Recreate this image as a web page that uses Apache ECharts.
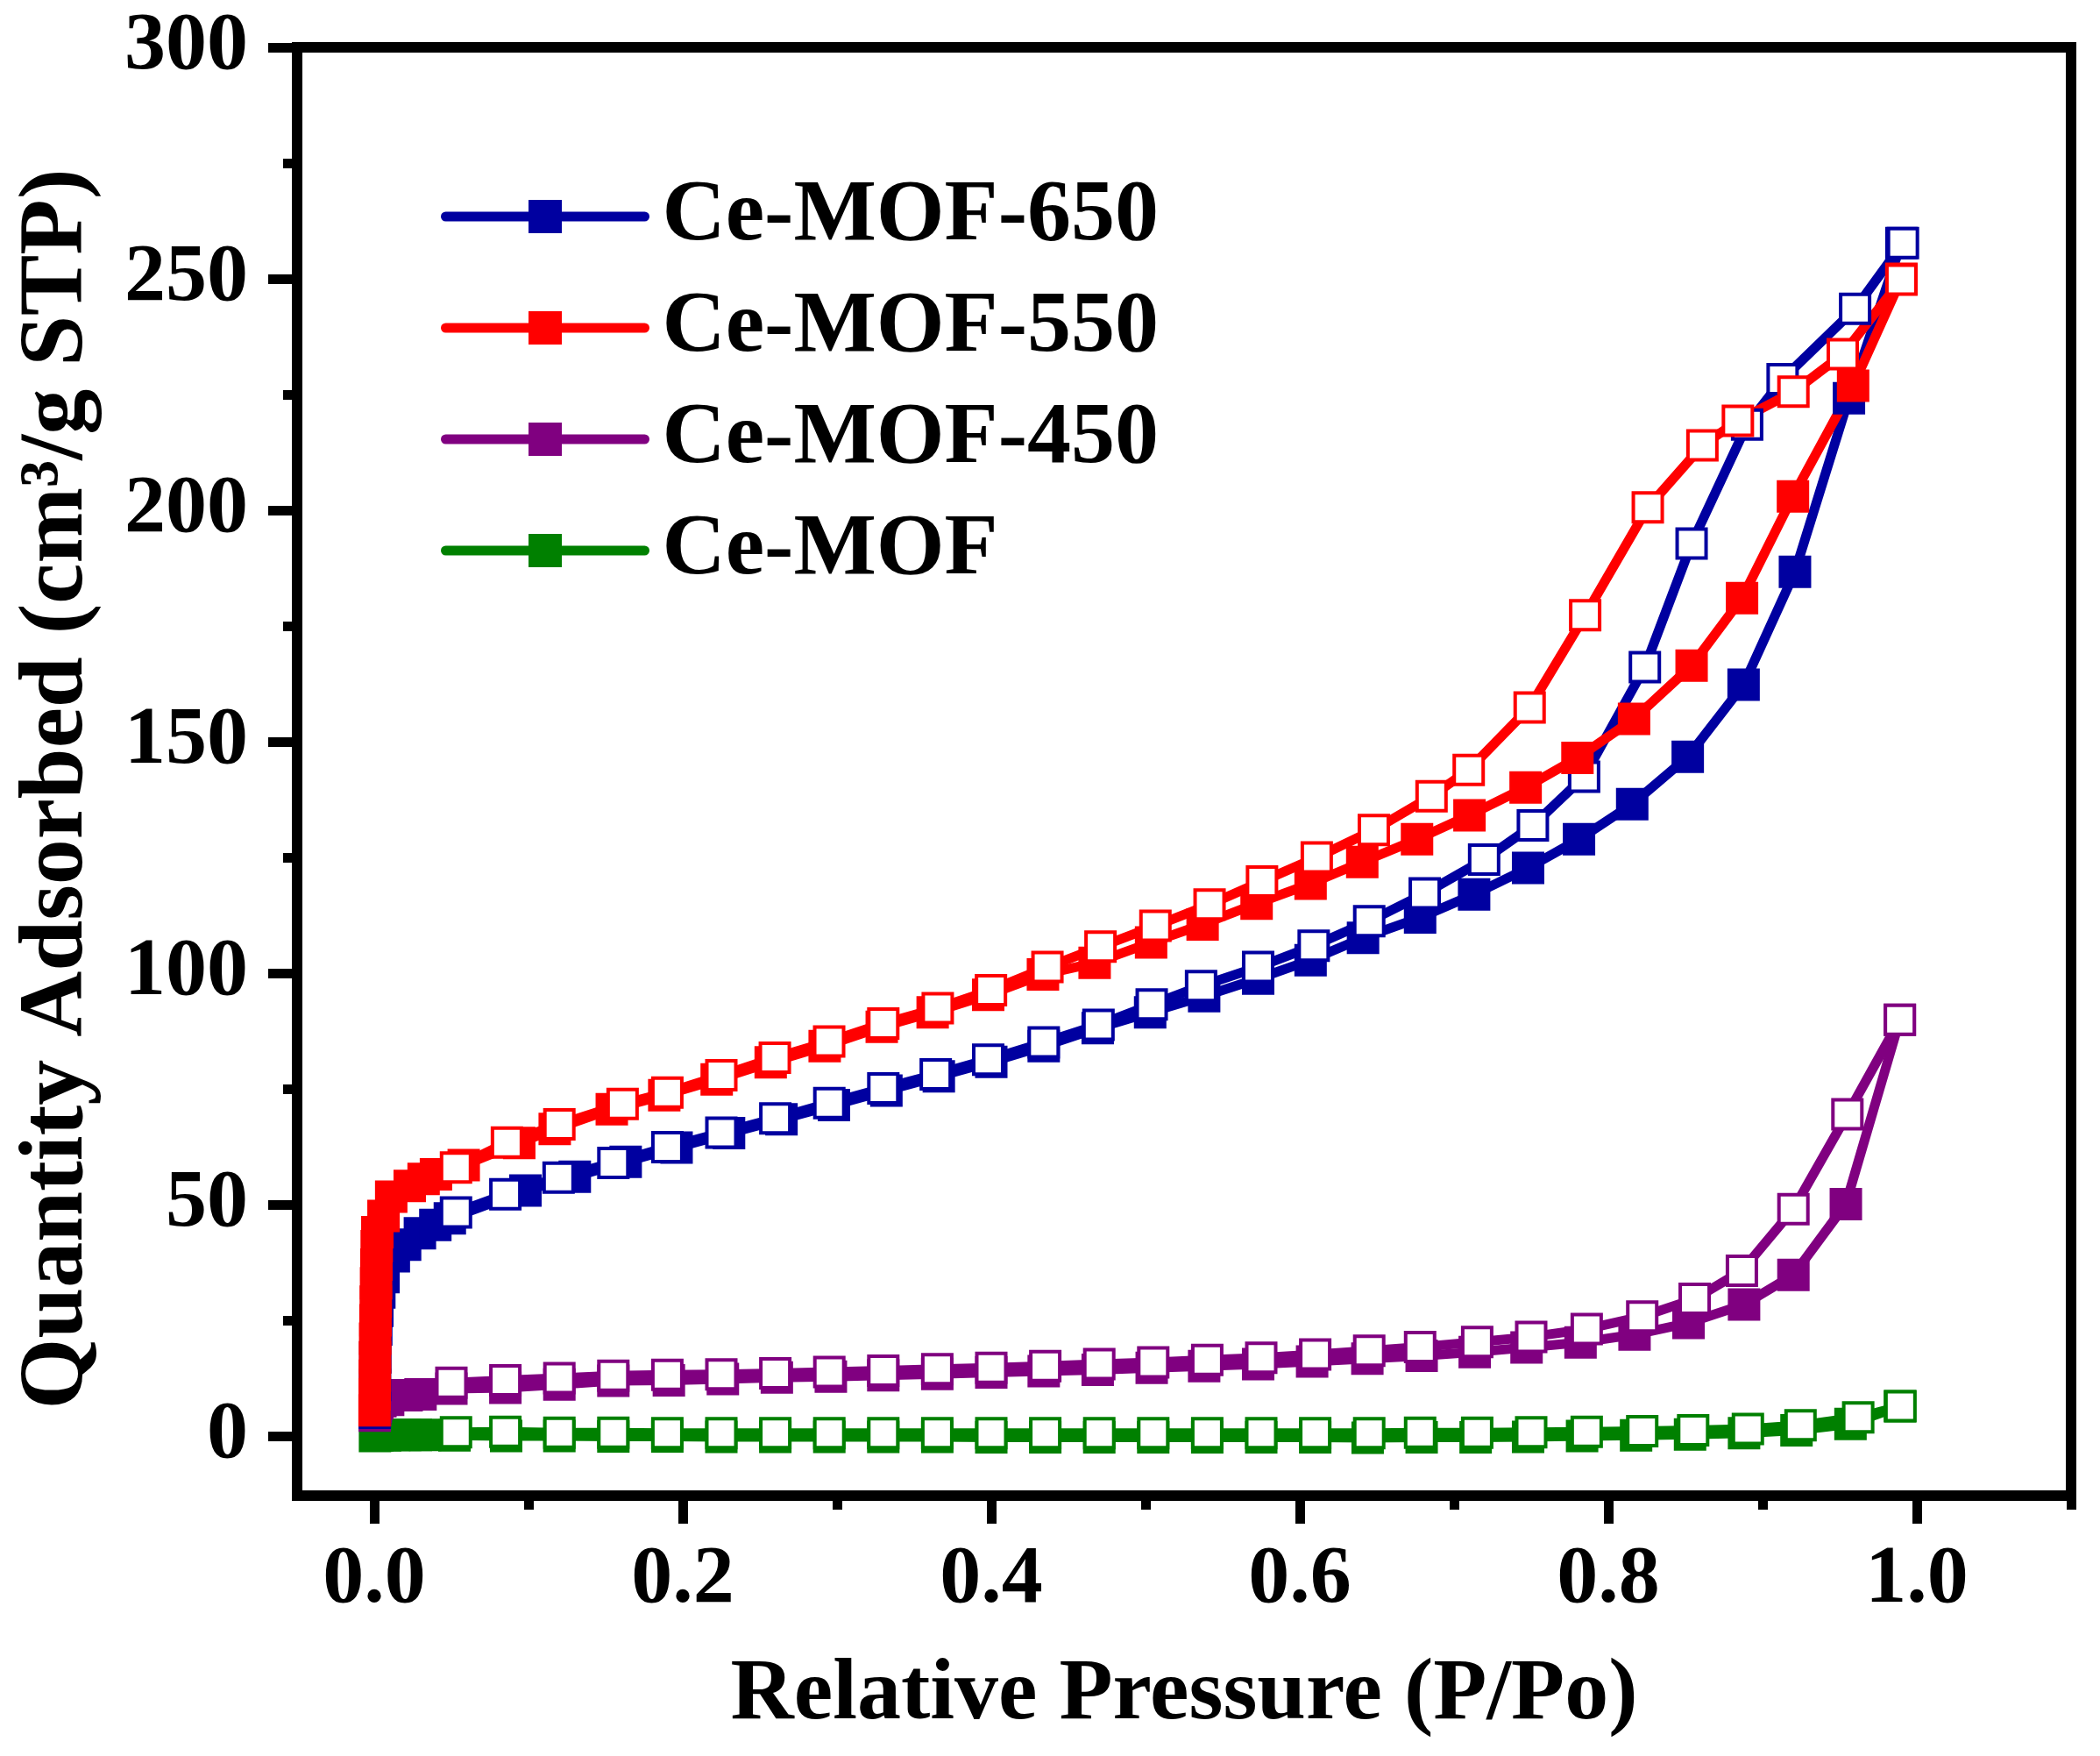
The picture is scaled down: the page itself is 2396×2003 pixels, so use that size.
<!DOCTYPE html>
<html>
<head>
<meta charset="utf-8">
<script src="https://cdn.jsdelivr.net/npm/echarts@6/dist/echarts.min.js"></script>
<style>
  html, body { margin: 0; padding: 0; background: #fff; }
  #chart { width: 2396px; height: 2003px; }
</style>
</head>
<body>
<div id="chart"></div>
<script>
// tick labels
const xMajorTicks = [0, 0.2, 0.4, 0.6, 0.8, 1.0];
const xMinorTicks = [0.1, 0.3, 0.5, 0.7, 0.9, 1.1];
const yMajorTicks = [0, 50, 100, 150, 200, 250, 300];
const yMinorTicks = [25, 75, 125, 175, 225, 275];

const seriesNames = ['Ce-MOF-650', 'Ce-MOF-550', 'Ce-MOF-450', 'Ce-MOF'];

// Ce-MOF-650 (blue) adsorption / desorption
const p650Ads = [0.0003, 0.0005, 0.0007, 0.0013, 0.002, 0.0033, 0.006, 0.0127, 0.020, 0.0296, 0.0396, 0.049,
  0.098, 0.13, 0.163, 0.196, 0.23, 0.264, 0.298, 0.332, 0.366, 0.4, 0.434, 0.469, 0.503, 0.538, 0.573,
  0.607, 0.641, 0.678, 0.713, 0.748, 0.781, 0.8155, 0.8515, 0.8877, 0.921, 0.956, 0.99];
const v650Ads = [5, 11, 17, 23, 27, 31, 34.3, 38.8, 41.3, 43.8, 45.6, 47,
  53, 56, 59.2, 62.3, 65.4, 68.4, 71.5, 74.6, 77.7, 80.8, 84.2, 88.1, 91.5, 95, 98.8,
  102.8, 107.6, 112, 117, 122.7, 128.9, 136.5, 146.7, 162.3, 186.7, 224.2, 257.7];
const p650Des = [0.991, 0.960, 0.913, 0.890, 0.854, 0.8237, 0.7843, 0.7511, 0.7195, 0.681, 0.645, 0.609,
  0.573, 0.536, 0.504, 0.4695, 0.434, 0.398, 0.364, 0.33, 0.295, 0.26, 0.225, 0.19, 0.155, 0.1195, 0.085, 0.053];
const v650Des = [257.7, 243.5, 228.3, 218.5, 192.8, 166.1, 142.4, 131.9, 124.5, 117.2, 111.2, 105.9,
  101.3, 97.2, 93.2, 88.8, 85.0, 81.3, 78.1, 75.1, 71.9, 68.6, 65.5, 62.4, 59.0, 55.8, 52.2, 48.3];

// Ce-MOF-550 (red)
const p550Ads = [0.0002, 0.0003, 0.0004, 0.0005, 0.0006, 0.0008, 0.001, 0.0012, 0.0014, 0.0016, 0.002,
  0.006, 0.011, 0.023, 0.032, 0.040, 0.058, 0.094, 0.117, 0.154, 0.188, 0.222, 0.257, 0.292, 0.329,
  0.362, 0.398, 0.4335, 0.467, 0.5036, 0.537, 0.572, 0.607, 0.6405, 0.676, 0.71, 0.7464, 0.78,
  0.8167, 0.854, 0.8867, 0.9197, 0.9587, 0.99];
const v550Ads = [5.5, 9, 13, 17, 21, 25, 29, 33, 37, 41, 44,
  47.5, 51.7, 54, 55.5, 56.5, 58.5, 63.3, 66.3, 70.6, 73.6, 77, 80.7, 84.2, 88.4,
  91.5, 95.3, 99.7, 102.2, 106.6, 110.5, 115, 119.3, 124, 128.9, 134.1, 140.1, 146.5,
  154.9, 166.4, 181, 203, 226.9, 250];
const p550Des = [0.99, 0.952, 0.920, 0.884, 0.861, 0.8256, 0.785, 0.749, 0.7095, 0.6854, 0.648, 0.611,
  0.5755, 0.5415, 0.5064, 0.4708, 0.4364, 0.3998, 0.3653, 0.330, 0.2949, 0.2597, 0.225, 0.19, 0.161,
  0.12, 0.086, 0.053];
const v550Des = [249.8, 233.7, 225.6, 219.3, 214.0, 200.6, 177.3, 157.4, 143.9, 138.2, 130.9, 125.0,
  119.8, 114.8, 110.2, 105.7, 101.3, 96.3, 92.4, 89.1, 85.2, 81.7, 77.9, 74.2, 71.7,
  67.3, 63.4, 58.0];

// Ce-MOF-450 (purple)
const p450Ads = [0.0003, 0.0006, 0.001, 0.002, 0.004, 0.009, 0.021, 0.030, 0.05, 0.085, 0.12, 0.155,
  0.191, 0.226, 0.261, 0.296, 0.33, 0.365, 0.4, 0.434, 0.469, 0.504, 0.538, 0.573, 0.608, 0.6438,
  0.679, 0.7134, 0.747, 0.782, 0.817, 0.852, 0.888, 0.920, 0.954, 0.989];
const v450Ads = [4.4, 5.5, 6.3, 7, 7.5, 7.8, 8.8, 9.0, 10.2, 10.4, 11.1, 11.9,
  12.0, 12.3, 12.6, 12.8, 13.1, 13.4, 13.7, 14.0, 14.3, 14.7, 15.1, 15.5, 16.1, 16.7,
  17.3, 18.1, 19.1, 20.2, 21.9, 24.4, 28.4, 34.8, 50.1, 89.9];
const p450Des = [0.989, 0.955, 0.920, 0.8866, 0.856, 0.822, 0.786, 0.750, 0.715, 0.678, 0.645, 0.61,
  0.575, 0.54, 0.505, 0.47, 0.435, 0.4, 0.365, 0.33, 0.295, 0.26, 0.225, 0.19, 0.155, 0.12, 0.085, 0.05];
const v450Des = [89.9, 69.5, 49.0, 35.7, 29.6, 25.8, 23.1, 21.4, 20.3, 19.2, 18.4, 17.6,
  16.9, 16.4, 15.9, 15.5, 15.1, 14.7, 14.4, 14.1, 13.8, 13.5, 13.3, 13.2, 13.0, 12.5, 12.0, 11.5];

// Ce-MOF (green)
const pMofAds = [0.0005, 0.002, 0.007, 0.013, 0.02, 0.027, 0.033, 0.052, 0.0855, 0.12, 0.155, 0.19,
  0.225, 0.26, 0.295, 0.33, 0.365, 0.4, 0.435, 0.47, 0.505, 0.54, 0.575, 0.61, 0.644, 0.679, 0.714,
  0.748, 0.783, 0.818, 0.853, 0.888, 0.922, 0.957, 0.989];
const vMofAds = [0.0, 0.1, 0.1, 0.2, 0.2, 0.2, 0.2, 0.1, 0.0, 0.0, -0.1, -0.1,
  -0.2, -0.2, -0.2, -0.2, -0.2, -0.3, -0.3, -0.3, -0.3, -0.3, -0.3, -0.3, -0.4, -0.3, -0.3,
  -0.2, 0.0, 0.1, 0.3, 0.6, 1.2, 2.6, 6.4];
const pMofDes = [0.9894, 0.962, 0.9246, 0.8905, 0.855, 0.822, 0.786, 0.750, 0.715, 0.678, 0.645, 0.61,
  0.575, 0.54, 0.505, 0.47, 0.435, 0.4, 0.365, 0.33, 0.295, 0.26, 0.225, 0.19, 0.155, 0.12, 0.085, 0.053];
const vMofDes = [6.4, 4.0, 2.3, 1.5, 1.2, 1.0, 0.9, 0.8, 0.7, 0.7, 0.6, 0.6,
  0.6, 0.6, 0.6, 0.6, 0.6, 0.6, 0.6, 0.6, 0.6, 0.6, 0.6, 0.6, 0.7, 0.7, 0.9, 0.8];

const colors = {
  'Ce-MOF-650': '#0000a0',
  'Ce-MOF-550': '#ff0000',
  'Ce-MOF-450': '#800080',
  'Ce-MOF': '#008000'
};

const FONT = "'Liberation Serif', 'Times New Roman', serif";

const zip = (xs, ys) => xs.map((x, i) => [x, ys[i]]);

// filled squares = adsorption, open squares = desorption
function adsSeries(name, xs, ys) {
  return {
    type: 'line',
    name: name,
    data: zip(xs, ys),
    symbol: 'rect',
    symbolSize: 37,
    itemStyle: { color: colors[name] },
    lineStyle: { color: colors[name], width: 11, cap: 'round', join: 'round' },
    emphasis: { disabled: true },
    animation: false
  };
}

function desSeries(name, xs, ys) {
  return {
    type: 'line',
    name: name + ' (des)',
    data: zip(xs, ys),
    symbol: 'rect',
    symbolSize: 33,
    itemStyle: { color: '#fff', borderColor: colors[name], borderWidth: 4 },
    lineStyle: { color: colors[name], width: 11, cap: 'round', join: 'round' },
    emphasis: { disabled: true },
    animation: false
  };
}

const labelStyle = { color: '#000', fontFamily: FONT, fontWeight: 'bold', fontSize: 94 };
const tickLine = { color: '#000', width: 11 };

const chart = echarts.init(document.getElementById('chart'), null, { renderer: 'canvas' });

chart.setOption({
  backgroundColor: '#fff',
  animation: false,
  grid: {
    left: 339, top: 54, right: 33, bottom: 297,
    show: true, borderColor: '#000', borderWidth: 12, backgroundColor: 'transparent'
  },
  legend: {
    data: seriesNames,
    orient: 'vertical',
    left: 498,
    top: 192,
    itemWidth: 227,
    itemHeight: 47.5,
    itemGap: 27,
    selectedMode: false,
    lineStyle: { width: 11, cap: 'round' },
    textStyle: {
      color: '#000', fontFamily: FONT, fontWeight: 'bold', fontSize: 100,
      lineHeight: 100, padding: [0, 0, 0, 15]
    }
  },
  xAxis: [
    {
      type: 'value', min: -0.05, max: 1.1, position: 'bottom',
      axisLine: { show: false, onZero: false },
      splitLine: { show: false },
      axisTick: { show: true, inside: false, customValues: xMajorTicks, length: 32, lineStyle: tickLine },
      axisLabel: {
        customValues: xMajorTicks, margin: 50, ...labelStyle,
        formatter: v => v.toFixed(1)
      },
      name: 'Relative Pressure (P/Po)',
      nameLocation: 'middle',
      nameGap: 178,
      nameTextStyle: { color: '#000', fontFamily: FONT, fontWeight: 'bold', fontSize: 100 }
    },
    {
      type: 'value', min: -0.05, max: 1.1, position: 'bottom',
      axisLine: { show: false, onZero: false },
      splitLine: { show: false },
      axisTick: { show: true, inside: false, customValues: xMinorTicks, length: 16, lineStyle: tickLine },
      axisLabel: { show: false }
    }
  ],
  yAxis: [
    {
      type: 'value', min: -12.9, max: 300, position: 'left',
      axisLine: { show: false, onZero: false },
      splitLine: { show: false },
      axisTick: { show: true, inside: false, customValues: yMajorTicks, length: 33, lineStyle: tickLine },
      axisLabel: { customValues: yMajorTicks, margin: 56, ...labelStyle },
      name: 'Quantity Adsorbed (cm³/g STP)',
      nameLocation: 'middle',
      nameGap: 221,
      nameTextStyle: {
        color: '#000', fontFamily: FONT, fontWeight: 'bold', fontSize: 104,
        padding: [0, 40, 0, 0]
      }
    },
    {
      type: 'value', min: -12.9, max: 300, position: 'left',
      axisLine: { show: false, onZero: false },
      splitLine: { show: false },
      axisTick: { show: true, inside: false, customValues: yMinorTicks, length: 16, lineStyle: tickLine },
      axisLabel: { show: false }
    }
  ],
  series: [
    adsSeries('Ce-MOF', pMofAds, vMofAds),
    desSeries('Ce-MOF', pMofDes, vMofDes),
    adsSeries('Ce-MOF-450', p450Ads, v450Ads),
    desSeries('Ce-MOF-450', p450Des, v450Des),
    adsSeries('Ce-MOF-650', p650Ads, v650Ads),
    desSeries('Ce-MOF-650', p650Des, v650Des),
    adsSeries('Ce-MOF-550', p550Ads, v550Ads),
    desSeries('Ce-MOF-550', p550Des, v550Des)
  ]
});
</script>
</body>
</html>
